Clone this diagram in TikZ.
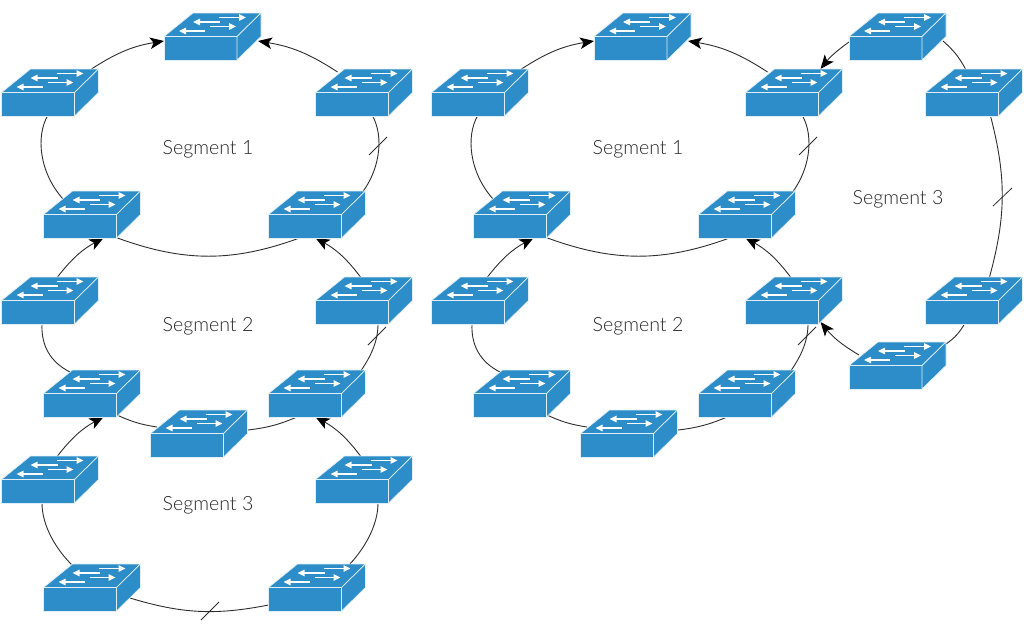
\documentclass[tikz,border=0pt]{standalone}
\usepackage{fontspec}
\setmainfont{Lato}[UprightFont=* Light]
\usetikzlibrary{arrows.meta,backgrounds,calc}
\definecolor{swblue}{RGB}{45,141,201}
\definecolor{wire}{RGB}{45,45,45}
\tikzset{
  x=1pt,y=-1pt,
  swbox/.style={inner sep=0,outer sep=0,minimum width=97pt,minimum height=47pt,anchor=north west},
  swface/.style={fill=swblue,draw=white!85!swblue,line width=.7pt,line join=round},
  swarrow/.style={draw=white,line width=1.4pt,-{Triangle[length=7pt,width=6.5pt]}},
  wireline/.style={draw=wire,line width=.9pt},
  flow/.style={wireline,-{Stealth[length=14pt,width=11.5pt,inset=3.5pt,color=black]}},
  tick/.style={draw=wire,line width=.8pt},
  seglabel/.style={font=\fontsize{19.6}{22}\selectfont,text=black!85,inner sep=0},
  pics/switchgfx/.style={code={
    \path[swface] (0,23.5) -- (29,0) -- (97,0) -- (73,23.5) -- cycle;
    \path[swface] (0,23.5) rectangle (73,47);
    \path[swface] (73,23.5) -- (97,0) -- (97,23.5) -- (73,47) -- cycle;
    \path[swarrow] (55,4.5) -- (82,4.5);
    \path[swarrow] (56,9) -- (29,9);
    \path[swarrow] (46,13.5) -- (72,13.5);
    \path[swarrow] (41,18) -- (15,18);
  }}
}
\newcommand{\sw}[3]{\node[swbox] (#1) at (#2,#3) {}; \pic at (#2,#3) {switchgfx};}
\begin{document}
\begin{tikzpicture}
\useasboundingbox (0,0) rectangle (1024,635);
% left column
\sw{LA}{164}{13}\sw{LB}{1.5}{69}\sw{LC}{315.5}{69}\sw{LD}{43.5}{191}\sw{LE}{268.5}{191}
\sw{LBb}{1.5}{277}\sw{LCb}{315.5}{277}\sw{LDb}{43.5}{370}\sw{LEb}{268.5}{370}\sw{LF}{150.5}{410}
\sw{LBc}{1.5}{456}\sw{LCc}{315.5}{456}\sw{LDc}{43.5}{564}\sw{LEc}{268.5}{564}
% right column
\sw{RA}{594}{13}\sw{RB}{431.5}{69}\sw{RC}{745.5}{69}\sw{RD}{473.5}{191}\sw{RE}{698.5}{191}
\sw{RBb}{431.5}{277}\sw{RCb}{745.5}{277}\sw{RDb}{473.5}{370}\sw{REb}{698.5}{370}\sw{RF}{580.5}{410}
\sw{RG}{849}{13}\sw{RH}{925.5}{69}\sw{RI}{925.5}{277}\sw{RJ}{849}{342}
% labels
\node[seglabel] (s1) at (208,149.5) {Segment 1};
\node[seglabel] (s2) at (208,326.5) {Segment 2};
\node[seglabel] (s3) at (208,505.5) {Segment 3};
\node[seglabel] (s4) at (638,149.5) {Segment 1};
\node[seglabel] (s5) at (638,326.5) {Segment 2};
\node[seglabel] (s6) at (898,199.5) {Segment 3};
\begin{scope}[on background layer]
\foreach \p in {L,R}{
  % segment 1
  \draw[wireline] ([shift={(46,47)}]\p B.north west) .. controls ([shift={(34.5,67)}]\p B.north west) and ([shift={(-4.5,-19)}]\p D.north west) .. ([shift={(19.5,8)}]\p D.north west);
  \draw[wireline] ([shift={(57,47)}]\p C.north west) .. controls ([shift={(68.5,67)}]\p C.north west) and ([shift={(112.5,-19)}]\p E.north west) .. ([shift={(88.5,8)}]\p E.north west);
  \draw[wireline] ([shift={(74,47)}]\p D.north west) to[bend right=20] ([shift={(31,47)}]\p E.north west);
  % segment 2
  \draw[flow] ([shift={(56,0)}]\p Bb.north west) to[bend left=12] ([shift={(60,47)}]\p D.north west);
  \draw[flow] ([shift={(45,0)}]\p Cb.north west) to[bend right=12] ([shift={(47,47)}]\p E.north west);
  \draw[wireline] ([shift={(40.5,47)}]\p Bb.north west) .. controls ([shift={(39.5,68)}]\p Bb.north west) and ([shift={(6.5,-8)}]\p Db.north west) .. ([shift={(26.5,2)}]\p Db.north west);
  \draw[wireline] ([shift={(62.5,47)}]\p Cb.north west) .. controls ([shift={(62.5,63)}]\p Cb.north west) and ([shift={(103.5,-15)}]\p Eb.north west) .. ([shift={(91.5,2)}]\p Eb.north west);
  \draw[wireline] ([shift={(73.5,45)}]\p Db.north west) to[bend right=8] ([shift={(6.5,17)}]\p F.north west);
  \draw[wireline] ([shift={(97.5,20)}]\p F.north west) to[bend right=8] ([shift={(28.5,47)}]\p Eb.north west);
}
\draw[flow] ([shift={(90,0)}]LB.north west) to[bend left=12] ([shift={(0,28)}]LA.north west);
\draw[flow] ([shift={(22,3)}]LC.north west) to[bend right=12] ([shift={(94,28)}]LA.north west);
\draw[flow] ([shift={(90,0)}]RB.north west) to[bend left=12] ([shift={(0,28)}]RA.north west);
\draw[flow] ([shift={(22,3)}]RC.north west) to[bend right=12] ([shift={(94,28)}]RA.north west);
% segment 3, left
\draw[flow] ([shift={(56,0)}]LBc.north west) to[bend left=12] ([shift={(60,47)}]LDb.north west);
\draw[flow] ([shift={(45,0)}]LCc.north west) to[bend right=12] ([shift={(47,47)}]LEb.north west);
\draw[wireline] ([shift={(40.5,47)}]LBc.north west) .. controls ([shift={(40.5,69)}]LBc.north west) and ([shift={(11.5,-16)}]LDc.north west) .. ([shift={(28.5,1)}]LDc.north west);
\draw[wireline] ([shift={(62.5,47)}]LCc.north west) .. controls ([shift={(62.5,69)}]LCc.north west) and ([shift={(96.5,-16)}]LEc.north west) .. ([shift={(80.5,1)}]LEc.north west);
\draw[wireline] ([shift={(86.5,34)}]LDc.north west) to[bend right=14] ([shift={(0,41)}]LEc.north west);
% segment 3, right
\draw[flow] ([shift={(0,29)}]RG.north west) to[bend right=8] ([shift={(75,0)}]RC.north west);
\draw[wireline] ([shift={(94,28)}]RG.north west) to[bend left=10] ([shift={(40,0)}]RH.north west);
\draw[wireline] ([shift={(65,47)}]RH.north west) to[bend left=15] ([shift={(64,0)}]RI.north west);
\draw[wireline] ([shift={(39,47)}]RI.north west) to[bend left=12] ([shift={(97,2)}]RJ.north west);
\draw[flow] ([shift={(10,13)}]RJ.north west) to[bend left=10] ([shift={(75,45)}]RCb.north west);
% ticks
\coordinate (t1a) at (369,155); \coordinate (t1b) at (387,137);
\coordinate (t2a) at (368,345); \coordinate (t2b) at (386,327);
\coordinate (t3a) at (201,620); \coordinate (t3b) at (219,602);
\coordinate (t4a) at (799,155); \coordinate (t4b) at (817,137);
\coordinate (t5a) at (798,345); \coordinate (t5b) at (816,327);
\coordinate (t6a) at (993,206); \coordinate (t6b) at (1012,188);
\foreach \t in {1,...,6}{\draw[tick] (t\t a) -- (t\t b);}
\end{scope}
\end{tikzpicture}
\end{document}
